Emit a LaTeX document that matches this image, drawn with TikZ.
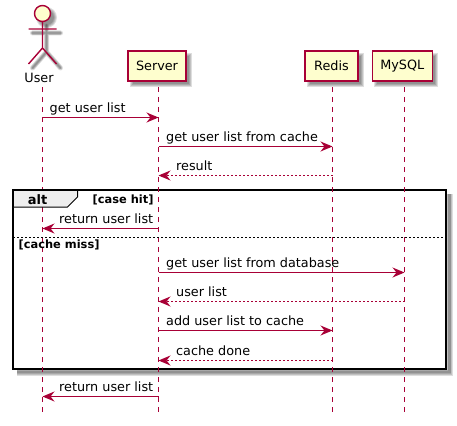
\documentclass[tikz,border=0pt]{standalone}
\usepackage{fontspec}
\setmainfont{DejaVu Sans}
\usetikzlibrary{arrows.meta}
\definecolor{pline}{HTML}{A80036}
\definecolor{pfill}{HTML}{FEFECE}
\definecolor{ptab}{HTML}{EEEEEE}
\newcommand{\softbox}[4]{%
  \foreach \g in {2,1,0,-1}{\fill[black,opacity=0.13] ({#1+4-\g},{#2+4-\g}) rectangle ({#3+4+\g},{#4+4+\g});}}
\tikzset{
  x=1pt,y=-1pt,
  partbox/.style={draw=pline,fill=pfill,line width=1.4pt,minimum height=30pt,inner sep=0pt,font=\fontsize{12.8}{15}\selectfont,text=black},
  lifeline/.style={draw=pline,line width=1pt,dash pattern=on 5pt off 5pt},
  syncmsg/.style={draw=pline,line width=1.1pt,-{Stealth[length=12pt,width=10pt,inset=4pt,color=pline]}},
  replymsg/.style={draw=pline,line width=1.1pt,dash pattern=on 2pt off 2pt,-{Stealth[length=12pt,width=10pt,inset=4pt,color=pline,sep=0pt]}},
  msglabel/.style={anchor=base west,inner sep=0pt,font=\fontsize{12.8}{15}\selectfont,text=black},
  guardlabel/.style={anchor=base west,inner sep=0pt,font=\fontsize{11.4}{13}\selectfont\bfseries,text=black},
  softstroke/.style={draw=black,draw opacity=0.13,line cap=round},
}
\begin{document}
\begin{tikzpicture}
\useasboundingbox (0,0) rectangle (457,425);
% shadows
\softbox{128}{51}{186}{81}
\softbox{305}{51}{358}{81}
\softbox{372.3}{51}{432.3}{81}
\foreach \w in {5,3.8,2.6,1.4}{
  \draw[softstroke,line width=\w pt] (46.5,26)--(46.5,52) (32.5,33)--(60.5,33) (32.5,68)--(46.5,52)--(60.5,68);
}
\foreach \g in {2,1,0,-1}{\fill[black,opacity=0.13] (46.5,17.5) circle ({8.5+\g});}
\foreach \w in {7,5.4,3.8,2.2}{
  \draw[draw=black,draw opacity=0.13,line width=\w pt] (449.5,194)--(449.5,372)--(17,372);
}
% participants
\node[partbox,minimum width=58pt] (server) at (157,66) {Server};
\node[partbox,minimum width=53pt] (redis) at (331.5,66) {Redis};
\node[partbox,minimum width=60pt] (mysql) at (402.3,66) {MySQL};
\node[inner sep=0pt,font=\fontsize{12.8}{15}\selectfont,text=black] (user) at (39,77.5) {User};
% actor
\draw[draw=pline,fill=pfill,line width=1.4pt] (42.5,13.5) circle (8);
\draw[draw=pline,line width=1.4pt] (42.5,21.5)--(42.5,48) (28.5,29)--(56.5,29) (28.5,64)--(42.5,48)--(56.5,64);
% frame
\draw[black,line width=2pt] (13,190) rectangle (446,368.5);
% lifelines
\coordinate (utop) at (42.5,87);
\coordinate (ubot) at (42.5,412);
\coordinate (stop) at (158.5,87);
\coordinate (sbot) at (158.5,412);
\coordinate (rtop) at (332.5,87);
\coordinate (rbot) at (332.5,412);
\coordinate (mtop) at (404.5,87);
\coordinate (mbot) at (404.5,412);
\draw[lifeline] (utop)--(ubot);
\draw[lifeline] (stop)--(sbot);
\draw[lifeline] (rtop)--(rbot);
\draw[lifeline] (mtop)--(mbot);
% tab and divider
\draw[fill=ptab,draw=black,line width=1pt] (13,190)--(77.5,190)--(77.5,197)--(67.5,207)--(13,207)--cycle;
\draw[black,line width=2pt] (13,190)--(77.5,190) (13,190)--(13,207);
\draw[black,line width=1pt,dash pattern=on 2pt off 2pt] (13,237.5)--(446,237.5);
\node[anchor=base,inner sep=0pt,font=\fontsize{13}{15}\selectfont\bfseries,text=black] (alt) at (37.5,204.5) {alt};
\node[guardlabel] (hit) at (92.5,203) {[case hit]};
\node[guardlabel] (miss) at (18.5,248) {[cache miss]};
% messages
\draw[syncmsg] (42.5,117.5) coordinate (a1) -- (158.5,117.5) coordinate (b1);
\node[msglabel] (l1) at (49.5,112.3) {get user list};
\draw[syncmsg] (158.5,146.5) coordinate (a2) -- (332.5,146.5) coordinate (b2);
\node[msglabel] (l2) at (166,141.5) {get user list from cache};
\draw[replymsg] (332.5,175.5) coordinate (a3) -- (158.5,175.5) coordinate (b3);
\node[msglabel] (l3) at (176,170.5) {result};
\draw[syncmsg] (158.5,228.5) coordinate (a4) -- (42.5,228.5) coordinate (b4);
\node[msglabel] (l4) at (59,223.3) {return user list};
\draw[syncmsg] (158.5,272.5) coordinate (a5) -- (404.5,272.5) coordinate (b5);
\node[msglabel] (l5) at (166,267.3) {get user list from database};
\draw[replymsg] (404.5,301.5) coordinate (a6) -- (158.5,301.5) coordinate (b6);
\node[msglabel] (l6) at (176,296.5) {user list};
\draw[syncmsg] (158.5,330.5) coordinate (a7) -- (332.5,330.5) coordinate (b7);
\node[msglabel] (l7) at (166,325.5) {add user list to cache};
\draw[replymsg] (332.5,360.5) coordinate (a8) -- (158.5,360.5) coordinate (b8);
\node[msglabel] (l8) at (176,355.3) {cache done};
\draw[syncmsg] (158.5,396.5) coordinate (a9) -- (42.5,396.5) coordinate (b9);
\node[msglabel] (l9) at (59,391.3) {return user list};
\end{tikzpicture}
\end{document}
